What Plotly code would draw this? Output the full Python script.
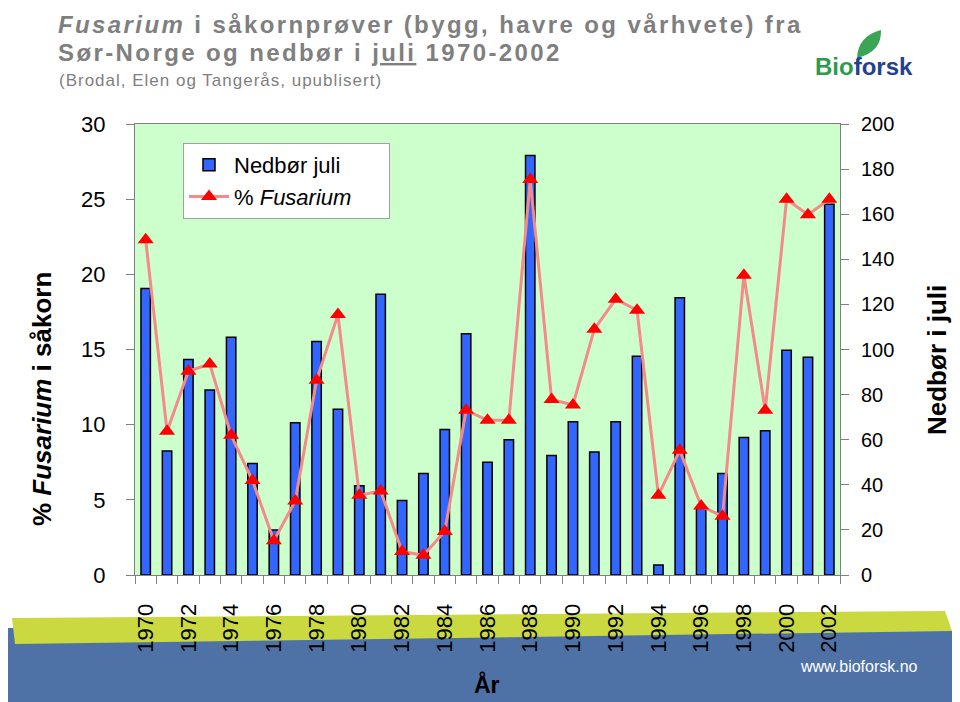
import plotly.graph_objects as go

years = [str(y) for y in range(1970, 2003)]
tick_labels = [y if int(y) % 2 == 0 else "" for y in years]

nedbor_juli = [127, 55, 95.6, 82, 105.4, 49.5, 20, 67.5, 103.5, 73.5,
               39.6, 124.5, 33, 45, 64.5, 107, 50, 60, 186, 53,
               68, 54.5, 68, 97, 4.4, 123, 30, 45, 61, 64,
               99.7, 96.6, 164.4]

fusarium_pct = [22.3, 9.56, 13.55, 14.04, 9.29, 6.28, 2.28, 4.92, 12.95, 17.32,
                5.3, 5.59, 1.57, 1.31, 2.9, 10.96, 10.29, 10.29, 26.3, 11.67,
                11.31, 16.35, 18.34, 17.61, 5.3, 8.29, 4.59, 3.9, 19.94, 10.96,
                25.0, 23.97, 25.0]

# page body has an 8px margin: figure sized to fit inside the 960x702 window
OFF = 8
W, H = 952, 694
L, T = 127, 116
PW, PH = 705, 451
R, B = W - L - PW, H - T - PH


def px(x):
    """page pixel x -> paper x"""
    return (x - OFF - L) / PW


def py(y):
    """page pixel y -> paper y"""
    return (H - B - (y - OFF)) / PH


def path(points):
    return "M " + " L ".join(f"{px(x):.5f} {py(y):.5f}" for x, y in points) + " Z"


FONT = "Liberation Sans, Arial, sans-serif"
NB = "\u00a0"

fig = go.Figure()
fig.add_trace(go.Bar(
    x=years, y=nedbor_juli, name="Nedbør juli" + NB * 7, yaxis="y",
    marker=dict(color="#3366FF", line=dict(color="#000000", width=1.5)),
))
fig.add_trace(go.Scatter(
    x=years, y=fusarium_pct, name="% <i>Fusarium</i>", yaxis="y2",
    mode="lines+markers",
    line=dict(color="#F48A8A", width=3),
    marker=dict(symbol="triangle-up", size=14, color="#FF0000"),
))

shapes = [
    dict(type="path", xref="paper", yref="paper", layer="below",
         path=path([(0, 628), (960, 631), (960, 702), (0, 702)]),
         fillcolor="#4E72A6", line=dict(width=0)),
    dict(type="path", xref="paper", yref="paper", layer="below",
         path=path([(12, 618), (945, 611), (952, 631), (15, 644)]),
         fillcolor="#C9D93F", line=dict(width=0)),
    dict(type="path", xref="paper", yref="paper", layer="above",
         path=f"M {px(857):.5f} {py(58):.5f} Q {px(858):.5f} {py(36):.5f} {px(881):.5f} {py(30):.5f} "
              f"Q {px(882):.5f} {py(52):.5f} {px(857):.5f} {py(58):.5f} Z",
         fillcolor="#3AA655", line=dict(width=0)),
]

title_col = "#7F7F7F"
annotations = [
    dict(text="<span style='letter-spacing:2.4px'><b><i>Fusarium</i> i såkornprøver (bygg, havre og vårhvete) fra</b></span>",
         x=px(57), y=py(24), xref="paper", yref="paper", xanchor="left", yanchor="middle",
         showarrow=False, borderpad=0, font=dict(family=FONT, size=24, color=title_col)),
    dict(text="<span style='letter-spacing:2.4px'><b>Sør-Norge og nedbør i <u>juli</u> 1970-2002</b></span>",
         x=px(57), y=py(53), xref="paper", yref="paper", xanchor="left", yanchor="middle",
         showarrow=False, borderpad=0, font=dict(family=FONT, size=24, color=title_col)),
    dict(text="<span style='letter-spacing:1px'>(Brodal, Elen og Tangerås, upublisert)</span>",
         x=px(57), y=py(81), xref="paper", yref="paper", xanchor="left", yanchor="middle",
         showarrow=False, font=dict(family=FONT, size=17, color=title_col)),
    dict(text="<b>% <i>Fusarium</i> i såkorn</b>", textangle=-90,
         x=px(42), y=py(399), xref="paper", yref="paper", xanchor="center", yanchor="middle",
         showarrow=False, font=dict(family=FONT, size=26, color="#000000")),
    dict(text="<b>Nedbør i juli</b>", textangle=-90,
         x=px(937), y=py(360), xref="paper", yref="paper", xanchor="center", yanchor="middle",
         showarrow=False, font=dict(family=FONT, size=26, color="#000000")),
    dict(text="<b>År</b>",
         x=px(487), y=py(684), xref="paper", yref="paper", xanchor="center", yanchor="middle",
         showarrow=False, font=dict(family=FONT, size=23, color="#000000")),
    dict(text="www.bioforsk.no",
         x=px(859), y=py(666), xref="paper", yref="paper", xanchor="center", yanchor="middle",
         showarrow=False, font=dict(family=FONT, size=16, color="#FFFFFF")),
    dict(text="<b><span style='color:#2E9B4A'>Bio</span><span style='color:#24408F'>forsk</span></b>",
         x=px(864), y=py(67), xref="paper", yref="paper", xanchor="center", yanchor="middle",
         showarrow=False, font=dict(family=FONT, size=24)),
]

fig.update_layout(
    width=W, height=H,
    margin=dict(l=L, r=R, t=T, b=B, autoexpand=False),
    paper_bgcolor="#FFFFFF",
    plot_bgcolor="#CCFFCC",
    font=dict(family=FONT, color="#000000"),
    bargap=0.56,
    showlegend=True,
    legend=dict(x=px(183), y=py(143), xanchor="left", yanchor="top",
                bgcolor="#FFFFFF", bordercolor="#A0A0A0", borderwidth=1,
                font=dict(family=FONT, size=22, color="#000000"),
                itemwidth=40, traceorder="normal"),
    xaxis=dict(type="category", range=[-0.5, 32.5], tickson="boundaries",
               tickvals=years, ticktext=tick_labels, tickangle=-90,
               ticks="outside", ticklen=8, tickcolor="#808080",
               tickfont=dict(family=FONT, size=22, color="#000000"),
               ticklabelstandoff=19,
               showline=True, linecolor="#808080", linewidth=1, mirror=True,
               showgrid=False, zeroline=False),
    yaxis=dict(side="right", range=[0, 200], dtick=20, tick0=0,
               ticks="outside", ticklen=8, tickcolor="#808080",
               tickfont=dict(family=FONT, size=20, color="#000000"),
               ticklabelstandoff=8,
               showline=True, linecolor="#808080", linewidth=1,
               showgrid=False, zeroline=False),
    yaxis2=dict(side="left", overlaying="y", range=[0, 30], dtick=5, tick0=0,
                ticks="outside", ticklen=8, tickcolor="#808080",
                tickfont=dict(family=FONT, size=22, color="#000000"),
                ticklabelstandoff=16,
                showline=True, linecolor="#808080", linewidth=1,
                showgrid=False, zeroline=False),
    shapes=shapes,
    annotations=annotations,
)

fig.write_html("out.html")
